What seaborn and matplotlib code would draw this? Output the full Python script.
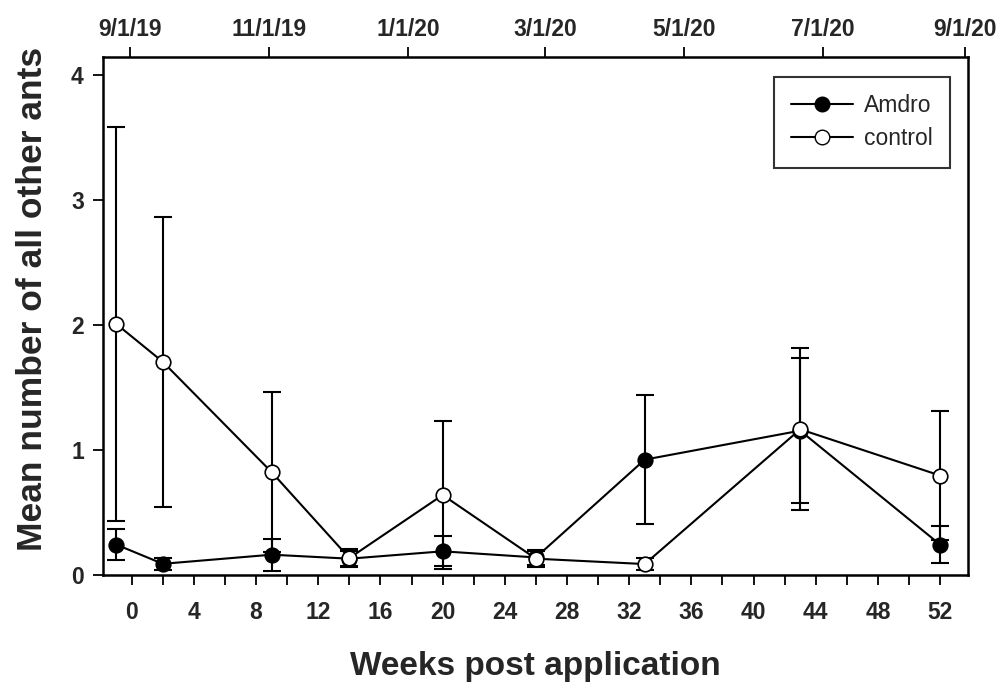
import matplotlib
matplotlib.use("Agg")
import matplotlib.pyplot as plt
import seaborn as sns
import numpy as np
from matplotlib.lines import Line2D

weeks = [-1, 2, 9, 14, 20, 26, 33, 43, 52]
amdro_mean = [0.243, 0.089, 0.162, 0.13, 0.189, 0.14, 0.923, 1.155, 0.243]
amdro_se = [0.125, 0.05, 0.127, 0.06, 0.12, 0.06, 0.515, 0.58, 0.145]
control_mean = [2.01, 1.706, 0.823, 0.135, 0.64, 0.13, 0.087, 1.166, 0.796]
control_se = [1.58, 1.16, 0.64, 0.07, 0.59, 0.065, 0.05, 0.65, 0.518]

date_labels = ["9/1/19", "11/1/19", "1/1/20", "3/1/20", "5/1/20", "7/1/20", "9/1/20"]
date_days = [0, 61, 122, 182, 243, 304, 366]

sns.set_theme(style="white")
plt.rcParams['font.family'] = ['Liberation Sans', 'DejaVu Sans']

fig = plt.figure(figsize=(9.98, 6.82), dpi=100)
ax = fig.add_axes([0.1035, 0.157, 0.8665, 0.760])

lw = 1.5
ms = 10.5
cap = 6.3
tfs = 16.5

ax.errorbar(weeks, amdro_mean, yerr=amdro_se, fmt='none', ecolor='black',
            elinewidth=lw, capsize=cap, capthick=lw, zorder=1)
ax.errorbar(weeks, control_mean, yerr=control_se, fmt='none', ecolor='black',
            elinewidth=lw, capsize=cap, capthick=lw, zorder=1)

sns.lineplot(x=weeks, y=amdro_mean, ax=ax, color='black', lw=lw, marker='o',
             markersize=ms, markerfacecolor='black', markeredgecolor='black',
             markeredgewidth=1.2, zorder=3)
sns.lineplot(x=weeks, y=control_mean, ax=ax, color='black', lw=lw, marker='o',
             markersize=ms, markerfacecolor='white', markeredgecolor='black',
             markeredgewidth=1.2, zorder=4)

ax.set_xlim(-1.83, 53.8)
ax.set_ylim(0, 4.15)
ax.set_xticks(np.arange(0, 53, 4))
ax.set_xticks(np.arange(2, 53, 4), minor=True)
ax.set_yticks([0, 1, 2, 3, 4])
ax.tick_params(axis='both', which='both', direction='out', length=7, width=1.3,
               color='black', labelsize=tfs, bottom=True, left=True, top=False, right=False)
for lab in ax.get_xticklabels() + ax.get_yticklabels():
    lab.set_fontweight('bold')
ax.tick_params(axis='x', which='both', pad=12)
ax.tick_params(axis='y', pad=7)

for sp in ax.spines.values():
    sp.set_visible(True)
    sp.set_color('black')
    sp.set_linewidth(1.8)

ax.set_xlabel("Weeks post application", fontsize=24, fontweight='bold', labelpad=19)
ax.set_ylabel("Mean number of all other ants", fontsize=25.5, fontweight='bold')
ax.yaxis.set_label_coords(-0.0628, 0.532)

ax2 = ax.twiny()
ax2.set_xlim(-11.7, 367.5)
ax2.set_xticks(date_days)
ax2.set_xticklabels(date_labels, fontsize=tfs, fontweight='bold')
ax2.tick_params(axis='x', which='both', direction='out', length=7, width=1.3,
                color='black', top=True, bottom=False, pad=4.5)
for sp in ax2.spines.values():
    sp.set_visible(False)

handles = [
    Line2D([0], [0], color='black', lw=lw, marker='o', markersize=ms,
           markerfacecolor='black', markeredgecolor='black'),
    Line2D([0], [0], color='black', lw=lw, marker='o', markersize=ms,
           markerfacecolor='white', markeredgecolor='black'),
]
leg = ax.legend(handles, ["Amdro", "control"], loc='upper right',
                bbox_to_anchor=(0.979, 0.961), fontsize=16.5, frameon=True,
                fancybox=False, edgecolor='black', numpoints=1,
                handlelength=2.67, borderpad=0.75, labelspacing=0.45,
                handletextpad=0.5, borderaxespad=0.0)
leg.get_frame().set_linewidth(1.5)

fig.savefig("out.png", dpi=100)
